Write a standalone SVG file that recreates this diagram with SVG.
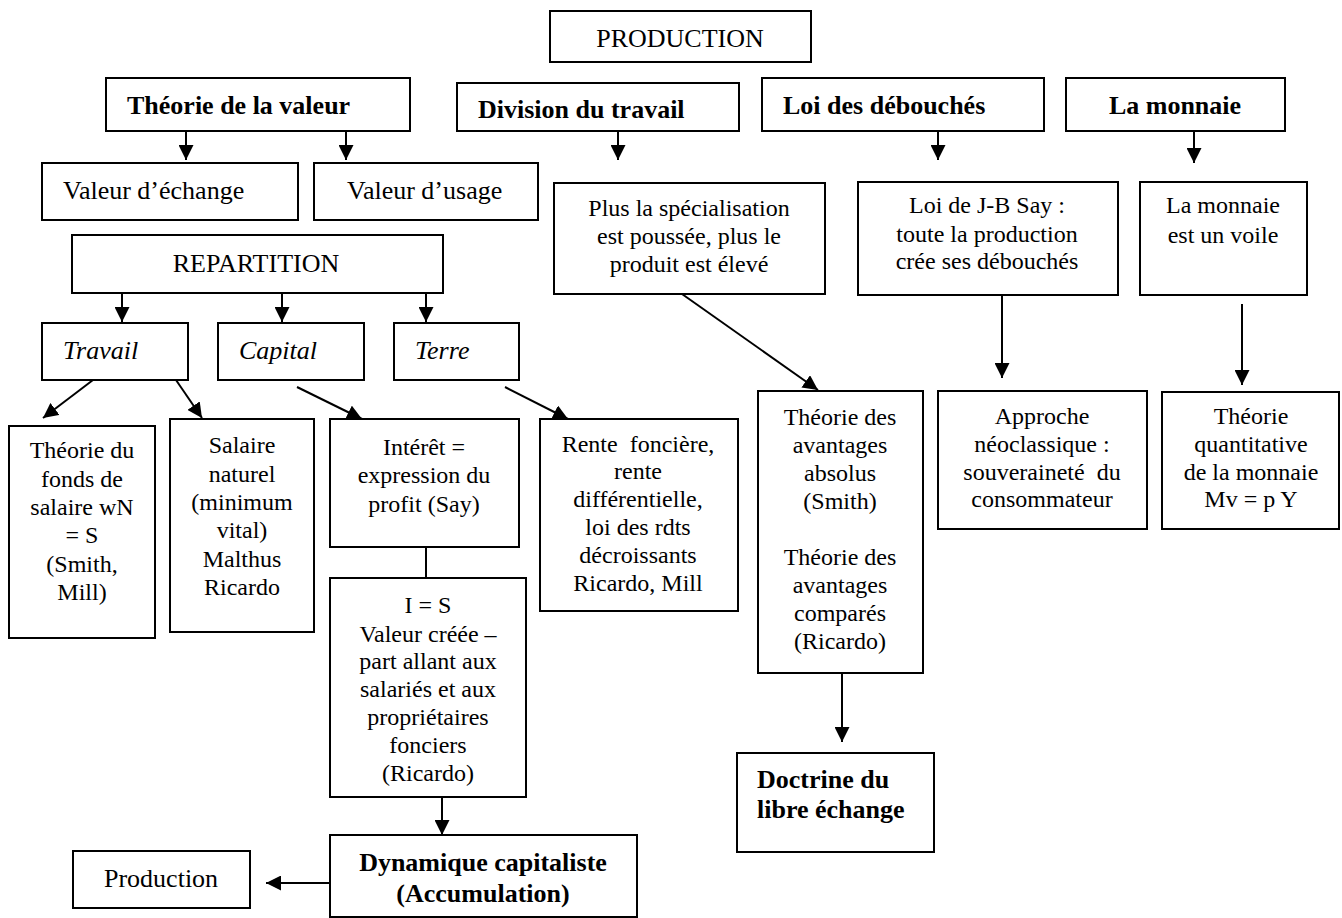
<svg xmlns="http://www.w3.org/2000/svg" width="1342" height="918" viewBox="0 0 1342 918">
<style>
rect{fill:#fff;stroke:#000;stroke-width:2}
text{font-family:'Liberation Serif','Times New Roman',Times,'DejaVu Serif',serif;fill:#000}
.t{font-size:24px;text-anchor:middle}
.l{font-size:26px}
.b{font-size:26px;font-weight:bold}
.i{font-size:26px;font-style:italic}
.c{stroke:#000;stroke-width:2;fill:none}
.a{marker-end:url(#ah)}
.pre{white-space:pre}
</style>
<defs>
<marker id="ah" viewBox="0 0 15 15" refX="15" refY="7.5" markerWidth="15" markerHeight="15" orient="auto" markerUnits="userSpaceOnUse">
<path d="M0,0 L15,7.5 L0,15 z" fill="#000"/>
</marker>
</defs>
<g id="connectors">
<line class="c a" x1="186" y1="131" x2="186" y2="160"/>
<line class="c a" x1="346" y1="131" x2="346" y2="160"/>
<line class="c a" x1="618" y1="131" x2="618" y2="160"/>
<line class="c a" x1="938" y1="131" x2="938" y2="160"/>
<line class="c a" x1="1194" y1="131" x2="1194" y2="163"/>
<line class="c a" x1="122" y1="293" x2="122" y2="322"/>
<line class="c a" x1="282" y1="293" x2="282" y2="322"/>
<line class="c a" x1="426" y1="293" x2="426" y2="322"/>
<line class="c a" x1="93" y1="380" x2="43" y2="418"/>
<line class="c a" x1="176" y1="380" x2="202" y2="418"/>
<line class="c a" x1="297" y1="387" x2="362" y2="419"/>
<line class="c a" x1="505" y1="387" x2="568" y2="419"/>
<line class="c a" x1="682" y1="294" x2="818" y2="390"/>
<line class="c a" x1="1002" y1="295" x2="1002" y2="378"/>
<line class="c a" x1="1242" y1="304" x2="1242" y2="385"/>
<line class="c" x1="426" y1="547" x2="426" y2="578"/>
<line class="c a" x1="842" y1="673" x2="842" y2="742"/>
<line class="c a" x1="442" y1="793" x2="442" y2="835"/>
<line class="c a" x1="330" y1="883" x2="266" y2="883"/>
</g>
<g id="production"><rect x="550" y="11" width="261" height="51"/><text class="l" x="680" y="47" text-anchor="middle">PRODUCTION</text></g>
<g id="theorie-valeur"><rect x="106" y="78" width="304" height="53"/><text class="b" x="127" y="114">Théorie de la valeur</text></g>
<g id="division-travail"><rect x="457" y="83" width="282" height="48"/><text class="b" x="478" y="118">Division du travail</text></g>
<g id="loi-debouches"><rect x="762" y="78" width="282" height="53"/><text class="b" x="783" y="114">Loi des débouchés</text></g>
<g id="la-monnaie"><rect x="1066" y="78" width="219" height="53"/><text class="b" x="1175" y="114" text-anchor="middle">La monnaie</text></g>
<g id="valeur-echange"><rect x="42" y="163" width="256" height="57"/><text class="l" x="63" y="199">Valeur d’échange</text></g>
<g id="valeur-usage"><rect x="314" y="163" width="224" height="57"/><text class="l" x="347" y="199">Valeur d’usage</text></g>
<g id="specialisation"><rect x="554" y="183" width="271" height="111"/><text class="t" x="689" y="216">Plus la spécialisation</text><text class="t" x="689" y="244">est poussée, plus le</text><text class="t" x="689" y="272">produit est élevé</text></g>
<g id="loi-say"><rect x="858" y="182" width="260" height="113"/><text class="t" x="987" y="213">Loi de J-B Say :</text><text class="t" x="987" y="242">toute la production</text><text class="t" x="987" y="269">crée ses débouchés</text></g>
<g id="voile"><rect x="1140" y="182" width="167" height="113"/><text class="t" x="1223" y="213">La monnaie</text><text class="t" x="1223" y="243">est un voile</text></g>
<g id="repartition"><rect x="72" y="235" width="371" height="58"/><text class="l" x="256" y="272" text-anchor="middle">REPARTITION</text></g>
<g id="travail"><rect x="42" y="323" width="146" height="57"/><text class="i" x="63" y="359">Travail</text></g>
<g id="capital"><rect x="218" y="323" width="146" height="57"/><text class="i" x="239" y="359">Capital</text></g>
<g id="terre"><rect x="394" y="323" width="125" height="57"/><text class="i" x="415" y="359">Terre</text></g>
<g id="fonds-salaire"><rect x="9" y="426" width="146" height="212"/><text class="t" x="82" y="458">Théorie du</text><text class="t" x="82" y="487">fonds de</text><text class="t" x="82" y="515">salaire wN</text><text class="t" x="82" y="543">= S</text><text class="t" x="82" y="572">(Smith,</text><text class="t" x="82" y="600">Mill)</text></g>
<g id="salaire-naturel"><rect x="170" y="419" width="144" height="213"/><text class="t" x="242" y="453">Salaire</text><text class="t" x="242" y="482">naturel</text><text class="t" x="242" y="510">(minimum</text><text class="t" x="242" y="538">vital)</text><text class="t" x="242" y="567">Malthus</text><text class="t" x="242" y="595">Ricardo</text></g>
<g id="interet"><rect x="330" y="419" width="189" height="128"/><text class="t" x="424" y="455">Intérêt =</text><text class="t" x="424" y="483">expression du</text><text class="t" x="424" y="512">profit (Say)</text></g>
<g id="rente"><rect x="540" y="419" width="198" height="192"/><text class="t pre" x="638" y="452">Rente  foncière,</text><text class="t" x="638" y="479">rente</text><text class="t" x="638" y="507">différentielle,</text><text class="t" x="638" y="535">loi des rdts</text><text class="t" x="638" y="563">décroissants</text><text class="t" x="638" y="591">Ricardo, Mill</text></g>
<g id="avantages"><rect x="758" y="391" width="165" height="282"/><text class="t" x="840" y="425">Théorie des</text><text class="t" x="840" y="453">avantages</text><text class="t" x="840" y="481">absolus</text><text class="t" x="840" y="509">(Smith)</text><text class="t" x="840" y="565">Théorie des</text><text class="t" x="840" y="593">avantages</text><text class="t" x="840" y="621">comparés</text><text class="t" x="840" y="649">(Ricardo)</text></g>
<g id="approche"><rect x="938" y="391" width="209" height="138"/><text class="t" x="1042" y="424">Approche</text><text class="t" x="1042" y="452">néoclassique :</text><text class="t pre" x="1042" y="480">souveraineté  du</text><text class="t" x="1042" y="507">consommateur</text></g>
<g id="quantitative"><rect x="1162" y="392" width="177" height="137"/><text class="t" x="1251" y="424">Théorie</text><text class="t" x="1251" y="452">quantitative</text><text class="t" x="1251" y="480">de la monnaie</text><text class="t" x="1251" y="507">Mv = p Y</text></g>
<g id="i-s"><rect x="330" y="578" width="196" height="219"/><text class="t" x="428" y="613">I = S</text><text class="t" x="428" y="642">Valeur créée –</text><text class="t" x="428" y="669">part allant aux</text><text class="t" x="428" y="697">salariés et aux</text><text class="t" x="428" y="725">propriétaires</text><text class="t" x="428" y="753">fonciers</text><text class="t" x="428" y="781">(Ricardo)</text></g>
<g id="doctrine"><rect x="737" y="753" width="197" height="99"/><text class="b" x="757" y="788">Doctrine du</text><text class="b" x="757" y="818">libre échange</text></g>
<g id="dynamique"><rect x="330" y="835" width="307" height="82"/><text class="b" x="483" y="871" text-anchor="middle">Dynamique capitaliste</text><text class="b" x="483" y="902" text-anchor="middle">(Accumulation)</text></g>
<g id="production-bas"><rect x="73" y="851" width="177" height="57"/><text class="l" x="104" y="887">Production</text></g>
</svg>
